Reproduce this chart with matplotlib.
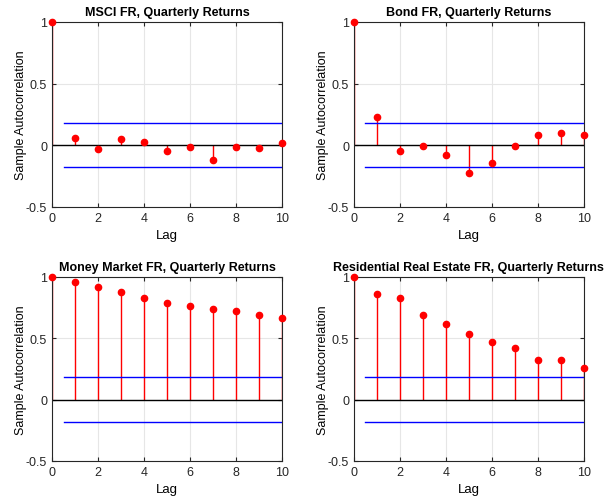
import matplotlib
matplotlib.use("Agg")
import matplotlib.pyplot as plt
import numpy as np

plt.rcParams.update({'font.size': 9, 'font.family': ['Liberation Sans', 'DejaVu Sans']})

lags = np.arange(0, 11)
msci = [1.0, 0.062, -0.033, 0.049, 0.027, -0.046, -0.011, -0.122, -0.011, -0.027, 0.016]
bond = [1.0, 0.226, -0.046, -0.005, -0.079, -0.223, -0.141, -0.005, 0.082, 0.095, 0.082]
money = [1.0, 0.959, 0.918, 0.875, 0.829, 0.788, 0.764, 0.742, 0.72, 0.693, 0.666]
estate = [1.0, 0.859, 0.829, 0.693, 0.617, 0.538, 0.470, 0.416, 0.326, 0.326, 0.258]
bound = 0.18

titles = ['MSCI FR, Quarterly Returns', 'Bond FR, Quarterly Returns',
          'Money Market FR, Quarterly Returns', 'Residential Real Estate FR, Quarterly Returns']
series = [msci, bond, money, estate]

fig = plt.figure(figsize=(6.05, 5.02), dpi=100)
positions = [[0.086, 0.586, 0.380, 0.3685], [0.585, 0.586, 0.380, 0.3685],
             [0.086, 0.080, 0.380, 0.3665], [0.585, 0.080, 0.380, 0.3665]]

for pos, title, vals in zip(positions, titles, series):
    ax = fig.add_axes(pos)
    ax.grid(True, color='#e6e6e6', linewidth=0.8)
    ax.set_axisbelow(True)
    ml, sl, bl = ax.stem(lags, vals, basefmt='k-')
    plt.setp(sl, color='red', linewidth=1.0)
    plt.setp(ml, color='red', markersize=4.5, clip_on=False, zorder=5)
    plt.setp(bl, color='black', linewidth=1.0)
    ax.plot([0.5, 10], [bound, bound], color='blue', linewidth=1.0)
    ax.plot([0.5, 10], [-bound, -bound], color='blue', linewidth=1.0)
    ax.set_xlim(0, 10)
    ax.set_ylim(-0.5, 1)
    ax.set_xticks([0, 2, 4, 6, 8, 10])
    ax.set_yticks([-0.5, 0, 0.5, 1])
    ax.set_yticklabels(['-0.5', '0', '0.5', '1'])
    ax.tick_params(direction='in', length=3, top=True, right=True, colors='#262626',
                   labelcolor='#262626')
    for s in ax.spines.values():
        s.set_color('#262626')
        s.set_linewidth(0.8)
    ax.set_title(title, fontweight='bold', fontsize=9, pad=5)
    ax.set_xlabel('Lag', fontsize=9.5, labelpad=4)
    ax.set_ylabel('Sample Autocorrelation', fontsize=9, labelpad=-1)

fig.savefig('out.png', dpi=100)
